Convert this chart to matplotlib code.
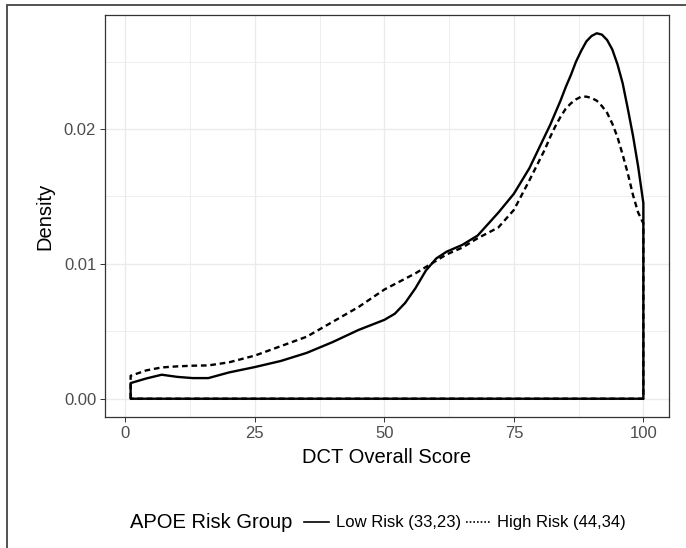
import matplotlib
matplotlib.use("Agg")
import matplotlib.pyplot as plt
from matplotlib.lines import Line2D
from matplotlib.patches import Rectangle
from matplotlib.ticker import MultipleLocator

plt.rcParams['font.family'] = ['Liberation Sans', 'DejaVu Sans']

# ---- data ----
low_x = [1, 4, 7, 10, 13, 16, 20, 25, 30, 35, 40, 45, 50, 52, 54, 56, 58, 60,
         62, 65, 68, 72, 75, 78, 80, 82, 84, 85, 86, 87, 88, 89, 90, 91, 92, 93,
         94, 95, 96, 97, 98, 99, 100]
low_y = [0.00116, 0.0015, 0.00178, 0.00162, 0.00153, 0.00153, 0.00195, 0.00235,
         0.0028, 0.0034, 0.0042, 0.0051, 0.00585, 0.0063, 0.0071, 0.0082, 0.0095,
         0.0104, 0.0109, 0.0114, 0.0121, 0.0138, 0.0152, 0.0171, 0.0187, 0.0203,
         0.0221, 0.0231, 0.0240, 0.0250, 0.0258, 0.0265, 0.0269, 0.0271, 0.0270,
         0.0266, 0.0259, 0.0248, 0.0234, 0.0215, 0.0195, 0.0172, 0.0145]

high_x = [1, 4, 7, 10, 13, 16, 20, 25, 30, 35, 40, 45, 50, 53, 56, 59, 62, 65,
          68, 72, 75, 78, 81, 82, 83, 84, 85, 86, 87, 88, 89, 90, 91, 92, 93, 94,
          95, 96, 97, 98, 99, 100]
high_y = [0.0017, 0.0021, 0.00232, 0.0024, 0.00245, 0.00247, 0.0027, 0.0032,
          0.0039, 0.0046, 0.0057, 0.0068, 0.0081, 0.0087, 0.0093, 0.0100, 0.0107,
          0.0112, 0.0119, 0.0127, 0.0140, 0.0162, 0.0185, 0.0194, 0.0202, 0.0209,
          0.0215, 0.0219, 0.0222, 0.0224, 0.0224, 0.0223, 0.0221, 0.0217, 0.0212,
          0.0204, 0.0194, 0.0181, 0.0167, 0.0151, 0.0138, 0.0130]

labels = ["Low Risk (33,23)", "High Risk (44,34)"]
x_ticks = [0, 25, 50, 75, 100]
y_ticks = [0.00, 0.01, 0.02]
y_tick_labels = ["0.00", "0.01", "0.02"]

# ---- figure ----
W, H = 686, 548
fig = plt.figure(figsize=(W / 100, H / 100), dpi=100)
ax = fig.add_axes([105 / W, 1 - 417 / H, (669 - 105) / W, (417 - 15) / H])

lw = 1.7
ax.fill_between(high_x, high_y, 0, facecolor='none', edgecolor='black',
                linewidth=lw, linestyle=(0, (2.4, 1.6)), zorder=3,
                joinstyle='round')
ax.fill_between(low_x, low_y, 0, facecolor='none', edgecolor='black',
                linewidth=lw, linestyle='-', zorder=4, joinstyle='round')

ax.set_xlim(-3.95, 104.95)
ymax = max(max(low_y), max(high_y))
ax.set_ylim(-0.05 * ymax, 1.05 * ymax)
ax.set_xticks(x_ticks)
ax.set_yticks(y_ticks)
ax.set_yticklabels(y_tick_labels)
ax.xaxis.set_minor_locator(MultipleLocator(12.5))
ax.yaxis.set_minor_locator(MultipleLocator(0.005))

ax.grid(True, which='major', color='#EBEBEB', linewidth=1.0, zorder=0)
ax.grid(True, which='minor', color='#EBEBEB', linewidth=0.6, zorder=0)
ax.set_axisbelow(True)
for s in ax.spines.values():
    s.set_color('#333333')
    s.set_linewidth(0.9)

ax.tick_params(which='major', length=3.3, width=0.7, color='#333333',
               labelsize=12, labelcolor='#4D4D4D', pad=3)
ax.tick_params(which='minor', length=0)

ax.set_xlabel("DCT Overall Score", fontsize=14.5, color='black', labelpad=5)
ax.set_ylabel("Density", fontsize=14.5, color='black', labelpad=7)

# ---- legend ----
ly = 1 - 523 / H
fig.text(130 / W, ly, "APOE Risk Group", fontsize=14.5, va='center', ha='left')
handles = [Line2D([], [], color='black', lw=1.2, linestyle='-'),
           Line2D([], [], color='black', lw=1.2, linestyle=(0, (1, 1.2)))]
fig.legend(handles, labels, loc='center left', bbox_to_anchor=(304 / W, ly),
           ncol=2, frameon=False, fontsize=12, handlelength=1.5,
           handletextpad=0.4, columnspacing=0.3, borderpad=0, borderaxespad=0)

# ---- outer frame (screenshot border) ----
fig.patches.append(Rectangle((7 / W, -0.1), 1.2, 1.1 - 5.5 / H,
                             transform=fig.transFigure, fill=False,
                             edgecolor='#444444', linewidth=1.3))

fig.savefig("out.png", dpi=100)
